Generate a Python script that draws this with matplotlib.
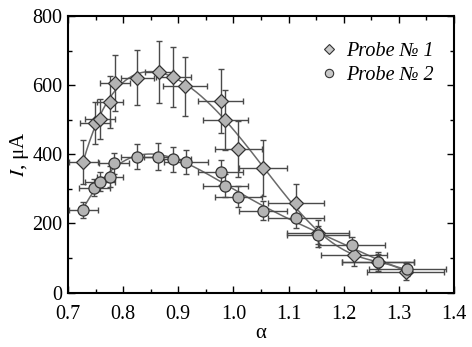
import matplotlib
matplotlib.use("Agg")
import matplotlib.pyplot as plt
import numpy as np
from matplotlib.ticker import MultipleLocator

plt.rcParams['font.family'] = ['Liberation Serif', 'DejaVu Serif']
plt.rcParams['mathtext.fontset'] = 'stix'

# Probe No 1 (diamonds)
alpha1 = [0.728, 0.749, 0.758, 0.776, 0.785, 0.826, 0.865, 0.891, 0.912, 0.977, 0.985, 1.009, 1.054, 1.114, 1.154, 1.219, 1.262, 1.312]
I1 = [378, 490, 502, 551, 606, 621, 638, 623, 597, 554, 499, 415, 360, 259, 171, 108, 89, 60]
yerr1 = [64, 60, 58, 75, 80, 80, 90, 87, 85, 93, 87, 80, 80, 55, 40, 30, 28, 25]
xerr1 = [0.026, 0.028, 0.028, 0.024, 0.027, 0.030, 0.026, 0.032, 0.040, 0.041, 0.041, 0.043, 0.044, 0.051, 0.056, 0.060, 0.065, 0.070]

# Probe No 2 (circles)
alpha2 = [0.728, 0.748, 0.758, 0.776, 0.784, 0.826, 0.864, 0.891, 0.914, 0.977, 0.985, 1.009, 1.054, 1.114, 1.154, 1.215, 1.262, 1.315]
I2 = [239, 303, 321, 335, 374, 393, 393, 385, 378, 348, 309, 277, 237, 216, 166, 137, 89, 68]
yerr2 = [22, 25, 28, 30, 30, 37, 40, 35, 35, 36, 33, 30, 28, 28, 25, 25, 22, 20]
xerr2 = [0.026, 0.028, 0.028, 0.024, 0.027, 0.030, 0.026, 0.032, 0.040, 0.041, 0.041, 0.043, 0.044, 0.051, 0.056, 0.059, 0.065, 0.070]

labels = ['Probe № 1', 'Probe № 2']
xticks = [0.7, 0.8, 0.9, 1.0, 1.1, 1.2, 1.3, 1.4]
yticks = [0, 200, 400, 600, 800]

fig = plt.figure(figsize=(4.72, 3.47), dpi=100)
ax = fig.add_axes([0.144, 0.157, 0.818, 0.797])

ecol = '#4a4a4a'
fcol = '#b4b4b4'
lcol = '#6a6a6a'

# smooth fitted curves through the data
for a, v in ((alpha1, I1), (alpha2, I2)):
    c = np.polyfit(a, v, 6)
    xs = np.linspace(min(a), max(a), 300)
    ax.plot(xs, np.polyval(c, xs), '-', color=lcol, lw=1.1, zorder=2)

ax.errorbar(alpha1, I1, yerr=yerr1, xerr=xerr1, fmt='none', ecolor=ecol, elinewidth=1.0, capsize=2.5, capthick=1.0, zorder=3)
ax.errorbar(alpha2, I2, yerr=yerr2, xerr=xerr2, fmt='none', ecolor=ecol, elinewidth=1.0, capsize=2.5, capthick=1.0, zorder=3)
ax.plot(alpha1, I1, 'D', ms=7, mfc=fcol, mec='#333333', mew=0.9, ls='none', zorder=4)
ax.plot(alpha2, I2, 'o', ms=8, mfc=fcol, mec='#333333', mew=0.9, ls='none', zorder=4)

h1, = ax.plot([], [], 'D', ms=5, mfc='#c8c8c8', mec='#333333', mew=0.8, ls='none')
h2, = ax.plot([], [], 'o', ms=6, mfc='#c8c8c8', mec='#333333', mew=0.8, ls='none')
leg = ax.legend([h1, h2], labels, loc='upper right', bbox_to_anchor=(0.995, 0.97), frameon=False,
                prop={'family': 'Liberation Serif', 'style': 'italic', 'size': 14.5},
                handletextpad=0.25, labelspacing=0.2, handlelength=1.2)

ax.set_xlim(0.7, 1.4)
ax.set_ylim(0, 800)
ax.set_xticks(xticks)
ax.set_xticklabels([f'{t:.1f}' for t in xticks])
ax.set_yticks(yticks)
ax.xaxis.set_minor_locator(MultipleLocator(0.05))
ax.yaxis.set_minor_locator(MultipleLocator(100))
ax.tick_params(which='both', direction='in', top=True, right=True, labelsize=14.5, width=1.0)
ax.tick_params(which='major', length=5)
ax.tick_params(which='minor', length=3)
ax.tick_params(axis='x', which='major', pad=9)
ax.tick_params(axis='y', which='major', pad=4)
for s in ax.spines.values():
    s.set_linewidth(1.5)

ax.set_xlabel('α', fontsize=15, labelpad=0)
ax.set_ylabel('$I$, μA', fontsize=15, labelpad=1)

fig.savefig('out.png', dpi=100)
